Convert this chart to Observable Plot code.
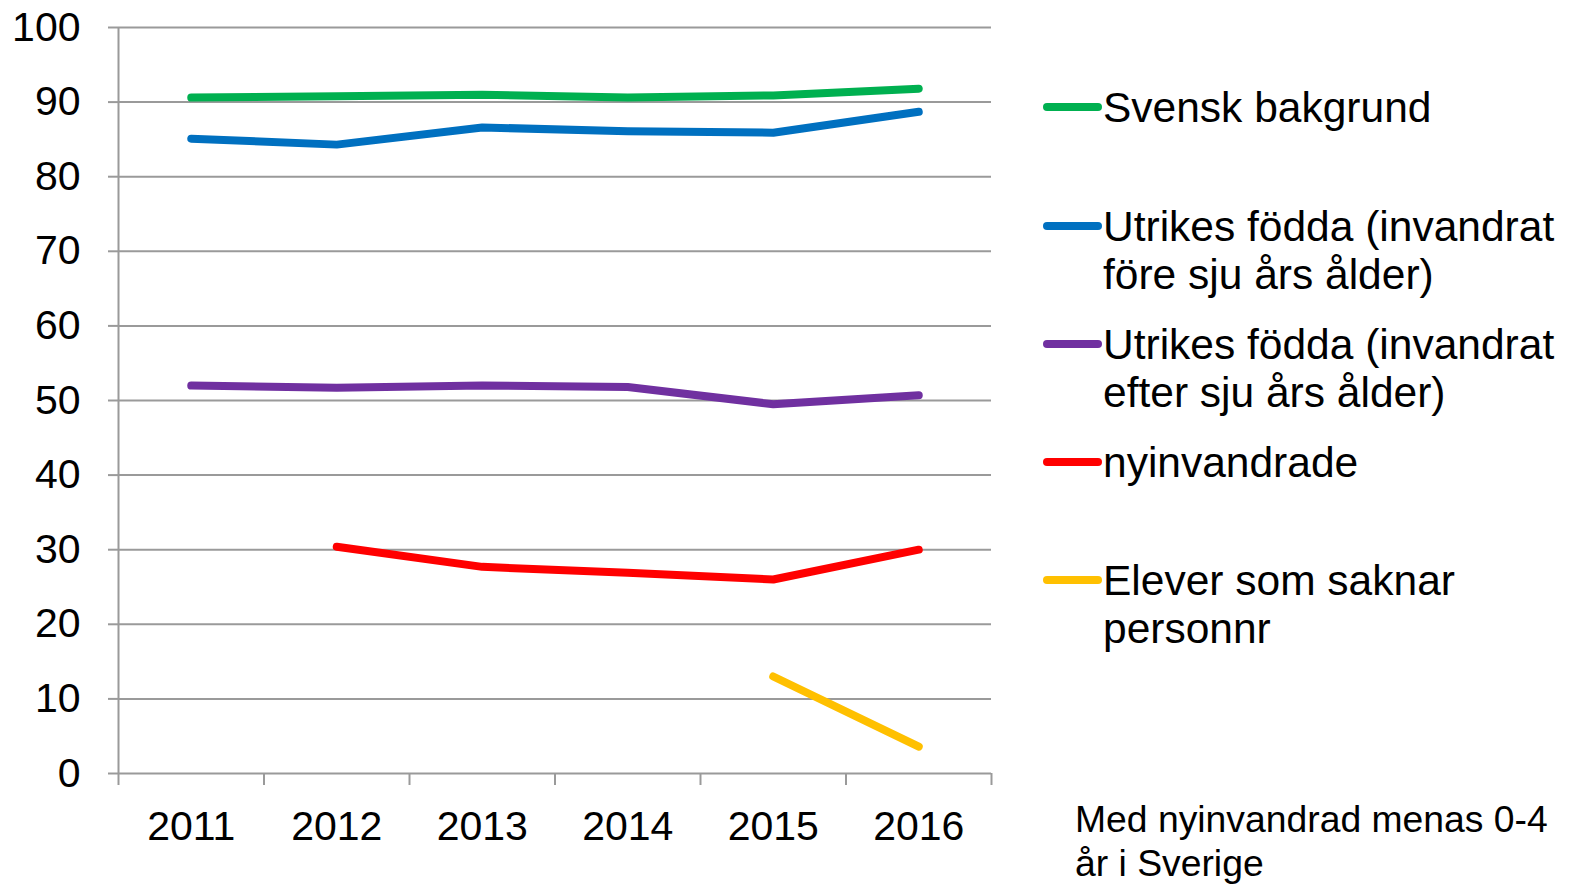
<!DOCTYPE html>
<html>
<head>
<meta charset="utf-8">
<script src="https://cdn.jsdelivr.net/npm/d3@7"></script>
<script src="https://cdn.jsdelivr.net/npm/@observablehq/plot@0.6"></script>
<style>
  html, body { margin: 0; padding: 0; background: #fff; }
  body { width: 1573px; height: 884px; position: relative; overflow: hidden; font-family: "Liberation Sans", Arial, sans-serif; color: #000; }
  #chart { position: absolute; left: 0; top: 0; }
  .leg { position: absolute; left: 1040px; font-size: 42.5px; line-height: 48px; white-space: nowrap; }
  .leg .sw { position: absolute; left: 3px; width: 59px; height: 8px; border-radius: 4px; top: 20px; }
  .leg .tx { position: absolute; left: 63px; top: 1px; }
  #caption { position: absolute; left: 1075px; top: 797px; font-size: 37.3px; line-height: 44px; white-space: nowrap; }
</style>
</head>
<body>
<div id="chart"></div>
<div id="legend"></div>
<div id="caption">Med nyinvandrad menas 0-4<br>år i Sverige</div>
<script>
const years = [2011, 2012, 2013, 2014, 2015, 2016];
const seriesNames = [
  "Svensk bakgrund",
  "Utrikes födda (invandrat före sju års ålder)",
  "Utrikes födda (invandrat efter sju års ålder)",
  "nyinvandrade",
  "Elever som saknar personnr"
];
const legendLines = [
  ["Svensk bakgrund"],
  ["Utrikes födda (invandrat", "före sju års ålder)"],
  ["Utrikes födda (invandrat", "efter sju års ålder)"],
  ["nyinvandrade"],
  ["Elever som saknar", "personnr"]
];
const colors = ["#00b050", "#0070c0", "#7030a0", "#ff0000", "#ffc000"];
const svensk = [90.6, 90.8, 91.0, 90.6, 90.9, 91.8];
const utrikesFore = [85.1, 84.3, 86.6, 86.1, 85.9, 88.7];
const utrikesEfter = [52.0, 51.7, 52.0, 51.8, 49.5, 50.7];
const nyinvandrade = [null, 30.4, 27.7, 26.9, 26.0, 30.0];
const saknarPersonnr = [null, null, null, null, 13.0, 3.6];
const yTicks = [0, 10, 20, 30, 40, 50, 60, 70, 80, 90, 100];
const captionText = "Med nyinvandrad menas 0-4 år i Sverige";

const allSeries = [svensk, utrikesFore, utrikesEfter, nyinvandrade, saknarPersonnr];
const rows = [];
allSeries.forEach((vals, i) => {
  vals.forEach((v, j) => {
    if (v != null) rows.push({series: seriesNames[i], year: years[j], value: v});
  });
});
const boundaries = [years[0] - 0.5, ...years.map(y => y + 0.5)];

const chart = Plot.plot({
  width: 1000,
  height: 884,
  marginLeft: 118,
  marginRight: 9,
  marginTop: 27,
  marginBottom: 111,
  style: {fontFamily: "'Liberation Sans', Arial, sans-serif", color: "#000", background: "#fff"},
  x: {type: "linear", domain: [boundaries[0], boundaries[boundaries.length - 1]]},
  y: {domain: [0, 100]},
  color: {domain: seriesNames, range: colors},
  marks: [
    Plot.gridY(yTicks, {stroke: "#9a9a9a", strokeOpacity: 1, strokeWidth: 2}),
    Plot.axisY(yTicks, {tickSize: 10, tickPadding: 28, fontSize: 41, stroke: "#9a9a9a", strokeWidth: 2, tickFormat: d => String(d), label: null, fill: "#000"}),
    Plot.axisX(boundaries, {tickSize: 12, tickFormat: () => "", stroke: "#9a9a9a", strokeWidth: 2, label: null}),
    Plot.axisX(years, {tickSize: 0, tickPadding: 37, fontSize: 41, tickFormat: d => String(d), label: null, fill: "#000"}),
    Plot.ruleX([boundaries[0]], {stroke: "#9a9a9a", strokeWidth: 2}),
    Plot.line(rows, {x: "year", y: "value", z: "series", stroke: "series", strokeWidth: 8, strokeLinecap: "round", strokeLinejoin: "round"})
  ]
});
document.getElementById("chart").appendChild(chart);

const legendTops = [83, 202, 320, 438, 556];
const legend = document.getElementById("legend");
legendLines.forEach((lines, i) => {
  const d = document.createElement("div");
  d.className = "leg";
  d.style.top = legendTops[i] + "px";
  const sw = document.createElement("div");
  sw.className = "sw";
  sw.style.background = colors[i];
  const tx = document.createElement("div");
  tx.className = "tx";
  tx.innerHTML = lines.join("<br>");
  d.appendChild(sw);
  d.appendChild(tx);
  legend.appendChild(d);
});
</script>
</body>
</html>
